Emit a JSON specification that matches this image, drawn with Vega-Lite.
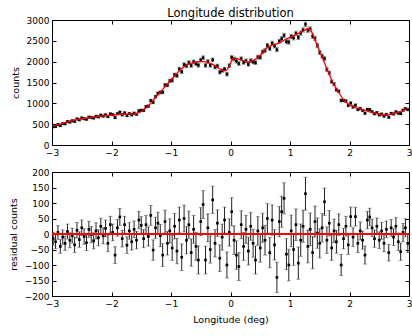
{
  "$schema": "https://vega.github.io/schema/vega-lite/v6.json",
  "padding": {"left": 7, "top": 7, "right": 2, "bottom": 2},
  "background": "white",
  "config": {
    "font": "DejaVu Sans",
    "view": {"stroke": "black", "strokeWidth": 1},
    "axis": {"domain": false, "grid": false, "tickColor": "black", "tickSize": -4, "labelFont": "DejaVu Sans", "labelFontSize": 9, "labelColor": "black", "titleFont": "DejaVu Sans", "titleFontSize": 9.5, "titleFontWeight": "normal", "titleColor": "black", "labelPadding": 7, "titlePadding": 6, "labelFlush": false}
  },
  "datasets": {
    "d": [
      {"x":-2.98,"m":450,"c":435,"r":-15,"e":21},{"x":-2.94,"m":468,"c":443,"r":-25,"e":22},{"x":-2.90,"m":486,"c":491,"r":5,"e":22},{"x":-2.86,"m":503,"c":463,"r":-40,"e":22},{"x":-2.82,"m":521,"c":511,"r":-10,"e":23},{"x":-2.78,"m":538,"c":508,"r":-30,"e":23},{"x":-2.74,"m":554,"c":562,"r":8,"e":24},{"x":-2.70,"m":570,"c":550,"r":-20,"e":24},{"x":-2.66,"m":586,"c":581,"r":-5,"e":24},{"x":-2.62,"m":602,"c":567,"r":-35,"e":25},
      {"x":-2.58,"m":614,"c":626,"r":12,"e":25},{"x":-2.54,"m":622,"c":604,"r":-18,"e":25},{"x":-2.50,"m":630,"c":650,"r":20,"e":25},{"x":-2.46,"m":638,"c":630,"r":-8,"e":25},{"x":-2.42,"m":646,"c":618,"r":-28,"e":25},{"x":-2.38,"m":654,"c":669,"r":15,"e":26},{"x":-2.34,"m":662,"c":660,"r":-2,"e":26},{"x":-2.30,"m":670,"c":648,"r":-22,"e":26},{"x":-2.26,"m":678,"c":688,"r":10,"e":26},{"x":-2.22,"m":686,"c":674,"r":-12,"e":26},
      {"x":-2.18,"m":693,"c":718,"r":25,"e":26},{"x":-2.14,"m":699,"c":693,"r":-6,"e":26},{"x":-2.10,"m":705,"c":723,"r":18,"e":27},{"x":-2.06,"m":711,"c":681,"r":-30,"e":27},{"x":-2.02,"m":717,"c":747,"r":30,"e":27},{"x":-1.98,"m":722,"c":727,"r":5,"e":27},{"x":-1.94,"m":726,"c":658,"r":-68,"e":27},{"x":-1.90,"m":730,"c":750,"r":20,"e":27},{"x":-1.86,"m":734,"c":789,"r":55,"e":27},{"x":-1.82,"m":738,"c":723,"r":-15,"e":27},
      {"x":-1.78,"m":741,"c":771,"r":30,"e":27},{"x":-1.74,"m":743,"c":707,"r":-36,"e":27},{"x":-1.70,"m":745,"c":755,"r":10,"e":27},{"x":-1.66,"m":747,"c":722,"r":-25,"e":27},{"x":-1.62,"m":749,"c":764,"r":15,"e":27},{"x":-1.58,"m":758,"c":738,"r":-20,"e":28},{"x":-1.54,"m":775,"c":820,"r":45,"e":28},{"x":-1.50,"m":805,"c":833,"r":28,"e":28},{"x":-1.46,"m":845,"c":830,"r":-15,"e":29},{"x":-1.42,"m":890,"c":920,"r":30,"e":30},
      {"x":-1.38,"m":940,"c":932,"r":-8,"e":31},{"x":-1.34,"m":1005,"c":1065,"r":60,"e":32},{"x":-1.30,"m":1075,"c":1023,"r":-52,"e":33},{"x":-1.26,"m":1140,"c":1160,"r":20,"e":34},{"x":-1.22,"m":1205,"c":1240,"r":35,"e":35},{"x":-1.18,"m":1270,"c":1265,"r":-5,"e":36},{"x":-1.14,"m":1335,"c":1267,"r":-68,"e":37},{"x":-1.10,"m":1400,"c":1440,"r":40,"e":37},{"x":-1.06,"m":1465,"c":1435,"r":-30,"e":38},{"x":-1.02,"m":1530,"c":1540,"r":10,"e":39},
      {"x":-0.98,"m":1595,"c":1550,"r":-45,"e":40},{"x":-0.94,"m":1660,"c":1685,"r":25,"e":41},{"x":-0.90,"m":1720,"c":1665,"r":-55,"e":41},{"x":-0.86,"m":1778,"c":1823,"r":45,"e":42},{"x":-0.82,"m":1833,"c":1758,"r":-75,"e":43},{"x":-0.78,"m":1880,"c":1930,"r":50,"e":43},{"x":-0.74,"m":1918,"c":1898,"r":-20,"e":44},{"x":-0.70,"m":1948,"c":1978,"r":30,"e":44},{"x":-0.66,"m":1968,"c":1908,"r":-60,"e":44},{"x":-0.62,"m":1982,"c":1997,"r":15,"e":45},
      {"x":-0.58,"m":1992,"c":1952,"r":-40,"e":45},{"x":-0.54,"m":1998,"c":1914,"r":-84,"e":45},{"x":-0.50,"m":2000,"c":2040,"r":40,"e":45},{"x":-0.46,"m":1999,"c":2094,"r":95,"e":45},{"x":-0.42,"m":1994,"c":1910,"r":-84,"e":45},{"x":-0.38,"m":1982,"c":2002,"r":20,"e":45},{"x":-0.34,"m":1962,"c":1912,"r":-50,"e":44},{"x":-0.30,"m":1934,"c":2044,"r":110,"e":44},{"x":-0.26,"m":1900,"c":1870,"r":-30,"e":44},{"x":-0.22,"m":1862,"c":1897,"r":35,"e":43},
      {"x":-0.18,"m":1825,"c":1747,"r":-78,"e":43},{"x":-0.14,"m":1795,"c":1785,"r":-10,"e":42},{"x":-0.10,"m":1780,"c":1825,"r":45,"e":42},{"x":-0.06,"m":1800,"c":1700,"r":-100,"e":42},{"x":-0.02,"m":1900,"c":1905,"r":5,"e":44},{"x":0.02,"m":2030,"c":2102,"r":72,"e":45},{"x":0.06,"m":2085,"c":2065,"r":-20,"e":46},{"x":0.10,"m":2080,"c":2012,"r":-68,"e":46},{"x":0.14,"m":2060,"c":1955,"r":-105,"e":45},{"x":0.18,"m":2040,"c":2070,"r":30,"e":45},
      {"x":0.22,"m":2022,"c":1982,"r":-40,"e":45},{"x":0.26,"m":2005,"c":2020,"r":15,"e":45},{"x":0.30,"m":1992,"c":1937,"r":-55,"e":45},{"x":0.34,"m":2000,"c":2025,"r":25,"e":45},{"x":0.38,"m":2025,"c":1995,"r":-30,"e":45},{"x":0.42,"m":2060,"c":1976,"r":-84,"e":45},{"x":0.46,"m":2100,"c":2110,"r":10,"e":46},{"x":0.50,"m":2150,"c":2105,"r":-45,"e":46},{"x":0.54,"m":2215,"c":2235,"r":20,"e":47},{"x":0.58,"m":2285,"c":2265,"r":-20,"e":48},
      {"x":0.62,"m":2340,"c":2390,"r":50,"e":48},{"x":0.66,"m":2375,"c":2315,"r":-60,"e":49},{"x":0.70,"m":2398,"c":2443,"r":45,"e":49},{"x":0.74,"m":2412,"c":2377,"r":-35,"e":49},{"x":0.78,"m":2428,"c":2288,"r":-140,"e":49},{"x":0.82,"m":2450,"c":2490,"r":40,"e":49},{"x":0.86,"m":2480,"c":2552,"r":72,"e":50},{"x":0.90,"m":2515,"c":2630,"r":115,"e":50},{"x":0.94,"m":2545,"c":2480,"r":-65,"e":50},{"x":0.98,"m":2570,"c":2470,"r":-100,"e":51},
      {"x":1.02,"m":2595,"c":2605,"r":10,"e":51},{"x":1.06,"m":2622,"c":2572,"r":-50,"e":51},{"x":1.10,"m":2650,"c":2680,"r":30,"e":51},{"x":1.14,"m":2678,"c":2584,"r":-94,"e":52},{"x":1.18,"m":2705,"c":2685,"r":-20,"e":52},{"x":1.22,"m":2735,"c":2760,"r":25,"e":52},{"x":1.26,"m":2768,"c":2898,"r":130,"e":53},{"x":1.30,"m":2795,"c":2755,"r":-40,"e":53},{"x":1.34,"m":2770,"c":2785,"r":15,"e":53},{"x":1.38,"m":2670,"c":2610,"r":-60,"e":52},
      {"x":1.42,"m":2520,"c":2560,"r":40,"e":50},{"x":1.46,"m":2385,"c":2388,"r":3,"e":49},{"x":1.50,"m":2250,"c":2220,"r":-30,"e":47},{"x":1.54,"m":2110,"c":2130,"r":20,"e":46},{"x":1.58,"m":1970,"c":2074,"r":104,"e":44},{"x":1.62,"m":1830,"c":1810,"r":-20,"e":43},{"x":1.66,"m":1695,"c":1730,"r":35,"e":41},{"x":1.70,"m":1565,"c":1520,"r":-45,"e":40},{"x":1.74,"m":1450,"c":1460,"r":10,"e":38},{"x":1.78,"m":1350,"c":1325,"r":-25,"e":37},
      {"x":1.82,"m":1260,"c":1290,"r":30,"e":35},{"x":1.86,"m":1170,"c":1070,"r":-100,"e":34},{"x":1.90,"m":1085,"c":1070,"r":-15,"e":33},{"x":1.94,"m":1030,"c":1055,"r":25,"e":32},{"x":1.98,"m":985,"c":950,"r":-35,"e":31},{"x":2.02,"m":950,"c":1006,"r":56,"e":31},{"x":2.06,"m":922,"c":912,"r":-10,"e":30},{"x":2.10,"m":900,"c":956,"r":56,"e":30},{"x":2.14,"m":882,"c":852,"r":-30,"e":30},{"x":2.18,"m":866,"c":876,"r":10,"e":29},
      {"x":2.22,"m":850,"c":830,"r":-20,"e":29},{"x":2.26,"m":830,"c":762,"r":-68,"e":29},{"x":2.30,"m":810,"c":855,"r":45,"e":28},{"x":2.34,"m":794,"c":849,"r":55,"e":28},{"x":2.38,"m":778,"c":798,"r":20,"e":28},{"x":2.42,"m":764,"c":749,"r":-15,"e":28},{"x":2.46,"m":752,"c":777,"r":25,"e":27},{"x":2.50,"m":741,"c":721,"r":-20,"e":27},{"x":2.54,"m":732,"c":742,"r":10,"e":27},{"x":2.58,"m":724,"c":694,"r":-30,"e":27},
      {"x":2.62,"m":720,"c":735,"r":15,"e":27},{"x":2.66,"m":726,"c":666,"r":-60,"e":27},{"x":2.70,"m":740,"c":760,"r":20,"e":27},{"x":2.74,"m":755,"c":745,"r":-10,"e":27},{"x":2.78,"m":770,"c":795,"r":25,"e":28},{"x":2.82,"m":790,"c":765,"r":-25,"e":28},{"x":2.86,"m":810,"c":753,"r":-57,"e":28},{"x":2.90,"m":830,"c":835,"r":5,"e":29},{"x":2.94,"m":852,"c":872,"r":20,"e":29},{"x":2.98,"m":880,"c":850,"r":-30,"e":30}
    ]
  },
  "data": {"name": "d"},
  "spacing": 27,
  "bounds": "flush",
  "vconcat": [
    {
      "width": 357,
      "height": 125,
      "title": {"text": "Longitude distribution", "font": "DejaVu Sans", "fontSize": 11.5, "fontWeight": "normal", "color": "black", "offset": -3},
      "layer": [
        {
          "mark": {"type": "errorbar", "color": "#222", "clip": true, "ticks": {"size": 4, "color": "#777"}},
          "encoding": {
            "x": {"field": "x", "type": "quantitative", "scale": {"domain": [-3, 3], "nice": false, "zero": false}, "axis": {"orient": "bottom", "values": [-3, -2, -1, 0, 1, 2, 3], "format": "d", "title": null}},
            "y": {"field": "c", "type": "quantitative", "scale": {"domain": [0, 3000], "nice": false}, "axis": {"orient": "left", "values": [0, 500, 1000, 1500, 2000, 2500, 3000], "format": "d", "title": "counts"}},
            "yError": {"field": "e"}
          }
        },
        {
          "mark": {"type": "square", "size": 7, "color": "black", "opacity": 1, "clip": true},
          "encoding": {
            "x": {"field": "x", "type": "quantitative", "axis": {"orient": "top", "values": [-3, -2, -1, 0, 1, 2, 3], "labels": false, "title": null}},
            "y": {"field": "c", "type": "quantitative", "axis": {"orient": "right", "values": [0, 500, 1000, 1500, 2000, 2500, 3000], "labels": false, "title": null}}
          }
        },
        {
          "mark": {"type": "line", "color": "red", "strokeWidth": 1.3, "clip": true},
          "encoding": {
            "x": {"field": "x", "type": "quantitative", "axis": null},
            "y": {"field": "m", "type": "quantitative", "axis": null}
          }
        }
      ]
    },
    {
      "width": 357,
      "height": 124,
      "layer": [
        {
          "mark": {"type": "errorbar", "color": "#222", "clip": true, "ticks": {"size": 4, "color": "#777"}},
          "encoding": {
            "x": {"field": "x", "type": "quantitative", "scale": {"domain": [-3, 3], "nice": false, "zero": false}, "axis": {"orient": "bottom", "values": [-3, -2, -1, 0, 1, 2, 3], "format": "d", "title": "Longitude (deg)"}},
            "y": {"field": "r", "type": "quantitative", "scale": {"domain": [-200, 200], "nice": false}, "axis": {"orient": "left", "values": [-200, -150, -100, -50, 0, 50, 100, 150, 200], "format": "d", "title": "residual counts"}},
            "yError": {"field": "e"}
          }
        },
        {
          "mark": {"type": "square", "size": 7, "color": "black", "opacity": 1, "clip": true},
          "encoding": {
            "x": {"field": "x", "type": "quantitative", "axis": {"orient": "top", "values": [-3, -2, -1, 0, 1, 2, 3], "labels": false, "title": null}},
            "y": {"field": "r", "type": "quantitative", "axis": {"orient": "right", "values": [-200, -150, -100, -50, 0, 50, 100, 150, 200], "labels": false, "title": null}}
          }
        },
        {
          "data": {"values": [{}]},
          "mark": {"type": "rule", "color": "red", "strokeWidth": 2},
          "encoding": {"y": {"datum": 0, "type": "quantitative", "axis": null}}
        }
      ]
    }
  ]
}
